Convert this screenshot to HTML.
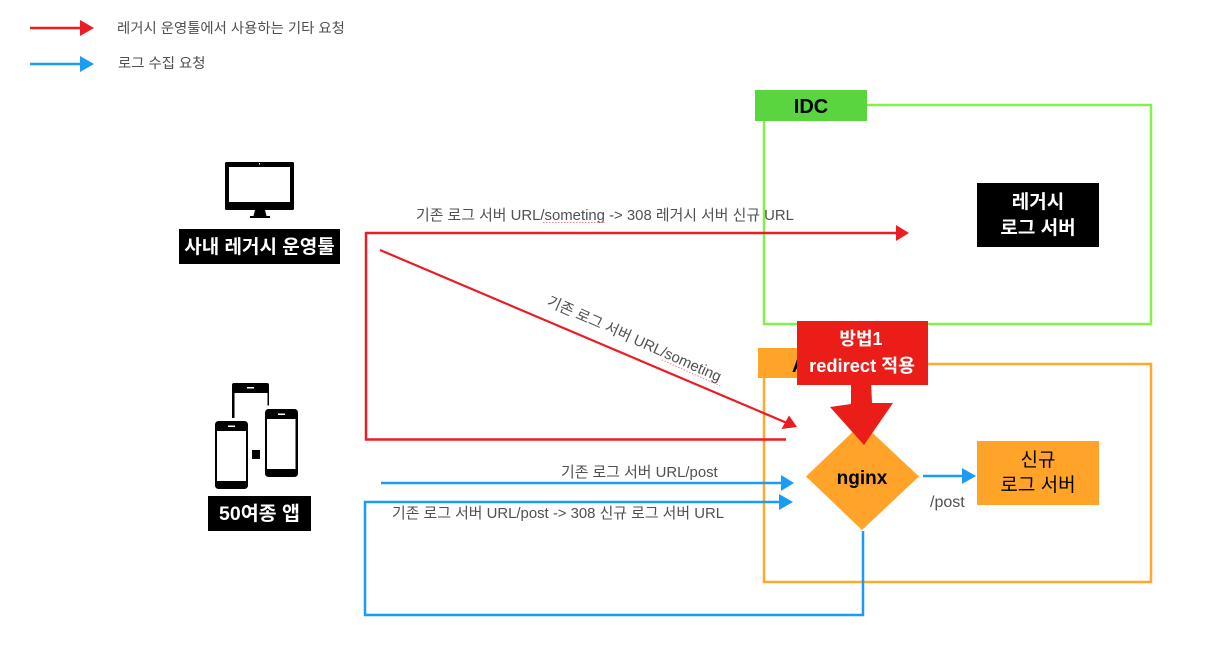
<!DOCTYPE html>
<html lang="ko">
<head>
<meta charset="utf-8">
<style>
html,body{margin:0;padding:0;background:#fff;width:1207px;height:671px;overflow:hidden}
svg{display:block}
text{font-family:"Liberation Sans","Noto Sans CJK KR",sans-serif}
.g{fill:#505050;font-size:14.4px}
.e{fill:#505050;font-size:14.9px}
.w{fill:#fff;font-size:19px;font-weight:700;text-anchor:middle}
.k{fill:#000;font-size:19px;text-anchor:middle}
.squig{fill:none;stroke:#e88;stroke-width:1;stroke-dasharray:1.5 1.5}
</style>
</head>
<body>
<svg width="1207" height="671" viewBox="0 0 1207 671" xmlns="http://www.w3.org/2000/svg">
<rect width="1207" height="671" fill="#fff"/>

<!-- legend -->
<path d="M30 28H81" stroke="#ec1c24" stroke-width="2.500" fill="none"/>
<path d="M80 20L94 28L80 36Z" fill="#ec1c24"/>
<path d="M30 64H81" stroke="#1a9cf5" stroke-width="2.500" fill="none"/>
<path d="M80 56L94 64L80 72Z" fill="#1a9cf5"/>
<text class="g" x="117" y="33">레거시 운영툴에서 사용하는 기타 요청</text>
<text class="g" x="118" y="68">로그 수집 요청</text>

<!-- IDC box -->
<rect x="764" y="105" width="387" height="219" fill="none" stroke="#83f04c" stroke-width="2.500"/>
<rect x="755" y="90" width="112" height="31" fill="#5ad53f"/>
<text x="811" y="113" text-anchor="middle" font-size="20" font-weight="700" fill="#000">IDC</text>

<!-- orange box -->
<rect x="764" y="364" width="387" height="218" fill="none" stroke="#ffa82d" stroke-width="2.500"/>
<rect x="758" y="348" width="60" height="30" fill="#ffa329"/>
<text x="792" y="372" font-size="19" font-weight="700" fill="#000">AWS</text>

<!-- legacy server -->
<rect x="977" y="183" width="122" height="64" fill="#000"/>
<text class="w" x="1038" y="208">레거시</text>
<text class="w" x="1038" y="234">로그 서버</text>

<!-- monitor icon -->
<rect x="225" y="162" width="69" height="48" rx="1.5" fill="#000"/>
<rect x="229" y="167" width="61" height="35" fill="#fff"/>
<rect x="259" y="163" width="1" height="1.5" fill="#fff"/>
<path d="M255 210H265L266.500 216H253.500Z" fill="#000"/>
<rect x="250" y="216" width="20" height="2" fill="#000"/>

<rect x="179" y="229" width="161" height="35" fill="#000"/>
<text class="w" x="259.500" y="253">사내 레거시 운영툴</text>

<!-- phones icon -->
<path d="M232 418V385a2 2 0 0 1 2-2h33a2 2 0 0 1 2 2V405.500H267.500V393H234.500V418Z" fill="#000"/>
<rect x="247" y="387" width="7" height="1.500" fill="#fff"/>

<rect x="215" y="421" width="33" height="68" rx="3.500" fill="#000"/>
<rect x="217" y="431" width="29" height="50" fill="#fff"/>
<rect x="228" y="425.500" width="7" height="1.500" fill="#fff"/>

<rect x="265" y="409" width="33" height="68" rx="3.500" fill="#000"/>
<rect x="267" y="419" width="28.500" height="50" fill="#fff"/>
<rect x="278" y="413.500" width="7" height="1.500" fill="#fff"/>

<rect x="252" y="450" width="8" height="9" fill="#000"/>

<rect x="208" y="496" width="103" height="35" fill="#000"/>
<text class="w" x="259.500" y="520" style="font-size:19.500px">50여종 앱</text>

<!-- red route -->
<text class="e" x="416" y="220">기존 로그 서버 URL/someting -&gt; 308 레거시 서버 신규 URL</text>
<path class="squig" d="M543 222.500H606"/>
<path d="M786 439.500H366V233H897" fill="none" stroke="#ec1c24" stroke-width="2.500"/>
<path d="M896 225L909 233L896 241Z" fill="#ec1c24"/>

<path d="M380 250L787 423" stroke="#ec1c24" stroke-width="2.200" fill="none"/>
<path d="M789 415.500L797 427L781.500 429Z" fill="#ec1c24"/>
<g transform="translate(546 305) rotate(24)">
<text class="e" x="0" y="0">기존 로그 서버 URL/someting</text>
<path class="squig" d="M128 3H192"/>
</g>

<!-- blue routes -->
<path d="M381 483H783" stroke="#1a9cf5" stroke-width="2.500" fill="none"/>
<path d="M781 475L794 483L781 491Z" fill="#1a9cf5"/>
<text class="e" x="561" y="477">기존 로그 서버 URL/post</text>

<path d="M863 531V615H365V502H783" fill="none" stroke="#1a9cf5" stroke-width="2.500"/>
<path d="M779 494L793 502L779 510Z" fill="#1a9cf5"/>
<text class="e" x="392" y="518">기존 로그 서버 URL/post -&gt; 308 신규 로그 서버 URL</text>

<!-- nginx -->
<path d="M862 423L919 476.500L862 530L806 476.500Z" fill="#ffa329"/>
<text x="862" y="484" text-anchor="middle" font-size="19" font-weight="700" fill="#000">nginx</text>
<path class="squig" d="M838 485H888"/>

<path d="M923 476H965" stroke="#1a9cf5" stroke-width="2.500" fill="none"/>
<path d="M962 468L976 476L962 484Z" fill="#1a9cf5"/>
<text class="e" x="930" y="507" style="font-size:16px">/post</text>

<!-- new server -->
<rect x="977" y="441" width="122" height="64" fill="#ffa329"/>
<text class="k" x="1038" y="466">신규</text>
<text class="k" x="1038" y="491">로그 서버</text>

<!-- red callout -->
<path d="M851 380H871L872 403H893L864 445L830 407L851 404Z" fill="#ea1d18"/>
<rect x="797" y="321" width="131" height="64" fill="#ea1d18"/>
<text class="w" x="861" y="345" style="font-size:18px">방법1</text>
<text class="w" x="862" y="372" style="font-size:18.300px">redirect 적용</text>
</svg>
</body>
</html>
